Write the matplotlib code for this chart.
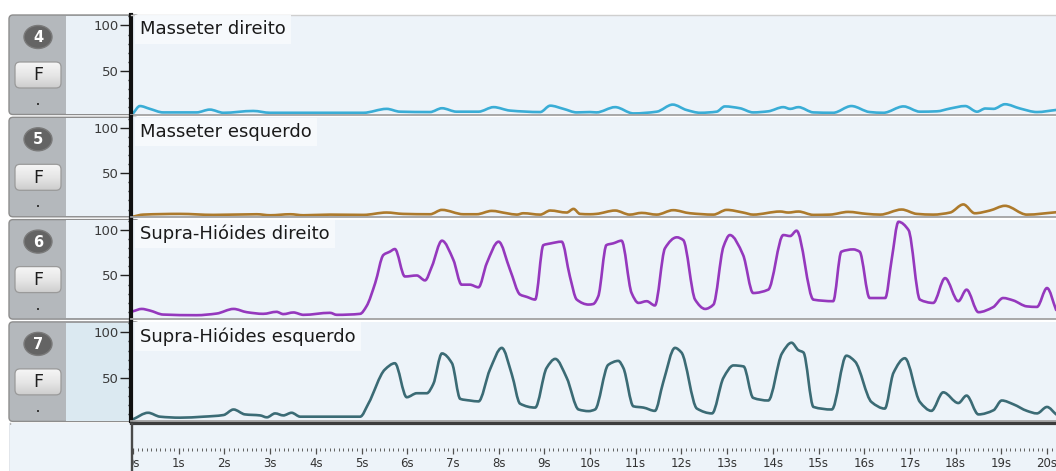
import numpy as np
import matplotlib
matplotlib.use('Agg')
import matplotlib.pyplot as plt
from matplotlib.patches import FancyBboxPatch, Ellipse, Rectangle, PathPatch
from matplotlib.path import Path
from matplotlib.colors import LinearSegmentedColormap
from matplotlib.ticker import MultipleLocator, FixedLocator, FuncFormatter

W, H = 1056, 471

# channel ids, muscle names and trace colours
channels = ['4', '5', '6', '7']
names = ['Masseter direito', 'Masseter esquerdo',
         'Supra-Hióides direito', 'Supra-Hióides esquerdo']
colors = ['#3aadd6', '#ad7a2c', '#9538bd', '#3b6b75']

# EMG envelopes, time in seconds and amplitude in %
md_t = [0.0, 0.15, 0.37, 0.66, 1.39, 1.68, 1.98, 2.63, 3.0, 5.04,
        5.55, 5.84, 6.5, 6.76, 7.08, 7.56, 7.89, 8.25, 8.91, 9.13,
        9.42, 9.71, 10.0, 10.14, 10.55, 10.95, 11.46, 11.81, 12.11, 12.41,
        12.77, 12.95, 13.28, 13.57, 13.9, 14.23, 14.38, 14.56, 14.89, 15.32,
        15.72, 16.12, 16.42, 16.86, 17.22, 17.59, 17.88, 18.21, 18.47, 18.65,
        18.83, 19.08, 19.41, 19.78, 20.2]
md_v = [3.2, 11.3, 8.2, 4.3, 4.3, 7.4, 3.9, 5.9, 3.9, 3.9,
        8.2, 5.1, 4.7, 8.9, 5.1, 5.1, 10.1, 6.3, 4.7, 11.7,
        8.2, 4.3, 4.7, 4.3, 10.1, 3.2, 5.1, 12.9, 7.0, 3.9,
        5.1, 10.9, 8.9, 4.3, 5.5, 10.1, 8.2, 10.1, 4.3, 3.9,
        11.3, 4.7, 3.9, 10.9, 5.1, 5.5, 8.6, 11.3, 5.1, 8.6,
        8.2, 13.3, 8.6, 4.7, 7.0]

me_t = [0.0, 0.22, 1.03, 1.76, 2.71, 3.0, 3.44, 3.73, 4.31, 5.04,
        5.55, 5.91, 6.5, 6.76, 7.23, 7.52, 7.85, 8.18, 8.4, 8.54,
        8.91, 9.13, 9.49, 9.64, 9.78, 10.0, 10.14, 10.55, 10.87, 11.13,
        11.46, 11.82, 12.19, 12.7, 12.99, 13.35, 13.57, 14.16, 14.34, 14.56,
        14.89, 15.25, 15.65, 16.06, 16.35, 16.82, 17.15, 17.51, 17.88, 18.17,
        18.42, 18.75, 19.08, 19.56, 20.2]
me_v = [2.2, 4.4, 5.2, 4.1, 4.8, 3.7, 4.8, 3.7, 4.4, 4.1,
        6.7, 5.2, 4.8, 9.6, 4.8, 4.8, 8.5, 5.9, 4.4, 5.9,
        4.4, 8.9, 6.7, 10.7, 5.2, 4.8, 5.2, 8.9, 4.4, 6.3,
        4.4, 9.3, 5.9, 4.4, 9.6, 6.7, 4.4, 7.8, 6.7, 7.8,
        4.1, 4.4, 7.4, 5.2, 4.4, 10.0, 5.2, 4.4, 6.7, 15.6,
        5.9, 8.9, 14.1, 4.4, 7.0]

sd_t = [0.0, 0.19, 0.37, 0.66, 1.39, 1.83, 2.2, 2.49, 2.85, 3.14,
        3.29, 3.51, 3.73, 4.31, 4.46, 4.97, 5.11, 5.3, 5.48, 5.62,
        5.73, 5.95, 6.21, 6.39, 6.54, 6.76, 7.01, 7.19, 7.37, 7.56,
        7.74, 8.0, 8.25, 8.47, 8.62, 8.8, 8.98, 9.13, 9.38, 9.56,
        9.71, 9.97, 10.07, 10.18, 10.36, 10.51, 10.69, 10.91, 11.06, 11.24,
        11.42, 11.64, 11.9, 12.04, 12.3, 12.52, 12.7, 12.92, 13.06, 13.35,
        13.57, 13.9, 14.23, 14.38, 14.52, 14.89, 15.32, 15.5, 15.76, 15.9,
        16.12, 16.46, 16.6, 16.75, 16.97, 17.22, 17.51, 17.77, 18.06, 18.24,
        18.5, 18.82, 19.04, 19.26, 19.56, 19.78, 20.0, 20.2]
sd_v = [10.6, 13.2, 11.4, 7.0, 6.3, 8.1, 13.2, 9.6, 7.8, 10.0,
        7.5, 9.3, 6.7, 8.9, 6.7, 7.8, 16.2, 41.7, 72.6, 76.2,
        79.1, 48.9, 50.0, 44.6, 59.9, 88.3, 67.2, 39.9, 39.9, 37.0,
        63.4, 87.2, 56.3, 29.0, 26.4, 23.5, 83.4, 85.2, 87.2, 48.9,
        23.5, 18.0, 18.6, 27.0, 83.5, 85.4, 88.3, 30.7, 19.8, 21.7,
        17.0, 79.9, 92.0, 89.0, 23.4, 13.2, 17.9, 81.7, 94.5, 72.6,
        30.7, 34.4, 94.5, 93.4, 99.3, 23.4, 21.7, 76.2, 78.7, 76.2,
        25.2, 25.2, 67.2, 109.1, 100.0, 23.4, 19.8, 47.1, 21.7, 34.4,
        9.6, 15.1, 25.2, 22.6, 16.0, 15.4, 36.2, 12.0]

se_t = [0.0, 0.33, 0.59, 1.03, 1.54, 1.98, 2.2, 2.45, 2.78, 2.93,
        3.11, 3.29, 3.47, 3.66, 4.31, 4.97, 5.15, 5.51, 5.73, 5.99,
        6.21, 6.43, 6.57, 6.76, 6.98, 7.16, 7.37, 7.56, 7.81, 8.07,
        8.29, 8.47, 8.8, 9.05, 9.24, 9.49, 9.75, 9.97, 10.11, 10.4,
        10.62, 10.73, 10.95, 11.17, 11.42, 11.6, 11.86, 12.0, 12.34, 12.67,
        12.92, 13.14, 13.36, 13.57, 13.9, 14.2, 14.41, 14.56, 14.67, 14.89,
        15.29, 15.61, 15.8, 16.16, 16.45, 16.64, 16.89, 17.22, 17.47, 17.73,
        18.06, 18.24, 18.5, 18.83, 19.01, 19.27, 19.56, 19.78, 20.0, 20.2]
se_v = [4.3, 11.5, 7.2, 6.1, 7.2, 9.0, 15.1, 9.7, 8.6, 6.5,
        10.8, 8.6, 11.5, 7.2, 7.2, 7.2, 21.5, 59.0, 66.0, 28.6,
        33.0, 33.0, 43.0, 76.8, 66.0, 26.8, 25.0, 24.0, 59.0, 82.9,
        53.6, 21.5, 17.2, 60.8, 70.8, 50.0, 15.1, 13.3, 15.1, 64.3,
        68.6, 60.8, 18.6, 17.2, 13.6, 44.7, 82.9, 77.9, 16.1, 10.8,
        50.0, 63.6, 62.5, 27.9, 25.0, 76.8, 88.6, 80.4, 77.9, 17.9,
        15.1, 74.3, 67.9, 23.3, 16.1, 55.4, 71.5, 23.3, 13.6, 34.0,
        22.2, 30.4, 9.7, 14.3, 25.0, 20.7, 13.6, 10.8, 17.9, 9.7]

series = [(md_t, md_v), (me_t, me_v), (sd_t, sd_v), (se_t, se_v)]

y_ticks = [50, 100]
x_ticks = list(range(0, 21))

PLOT_BG = '#edf3f9'
LEFT_X = 131          # pixel column of the vertical axis
PX_PER_S = 45.7
XLIM = (-2 / PX_PER_S, (W - LEFT_X - 2) / PX_PER_S)
YLIM = (2, 111.5)
TOPS = [15, 117.3, 219.6, 321.9]
PH = 99.5

plt.rcParams['font.family'] = ['DejaVu Sans']


def frac(x0, y0, x1, y1):
    # pixel box (top-left origin) -> figure fraction rect
    return [x0 / W, 1 - y1 / H, (x1 - x0) / W, (y1 - y0) / H]


def smooth_path(t, v):
    # monotone cubic (Fritsch-Carlson) through the samples, as bezier segments
    x = np.asarray(t, float)
    y = np.asarray(v, float)
    h = np.diff(x)
    d = np.diff(y) / h
    m = np.zeros_like(y)
    m[0], m[-1] = d[0], d[-1]
    for k in range(1, len(x) - 1):
        if d[k - 1] * d[k] <= 0:
            m[k] = 0.0
        else:
            w1 = 2 * h[k] + h[k - 1]
            w2 = h[k] + 2 * h[k - 1]
            m[k] = (w1 + w2) / (w1 / d[k - 1] + w2 / d[k])
    verts = [(x[0], y[0])]
    codes = [Path.MOVETO]
    for k in range(len(x) - 1):
        verts += [(x[k] + h[k] / 3, y[k] + m[k] * h[k] / 3),
                  (x[k + 1] - h[k] / 3, y[k + 1] - m[k + 1] * h[k] / 3),
                  (x[k + 1], y[k + 1])]
        codes += [Path.CURVE4] * 3
    return Path(verts, codes)


fig = plt.figure(figsize=(W / 100, H / 100), dpi=100, facecolor='white')

# background layer: left control strip for each channel
bg = fig.add_axes([0, 0, 1, 1], zorder=-1)
bg.axis('off')

btn_cmap = LinearSegmentedColormap.from_list('btn', ['#f6f6f6', '#e6e6e6', '#cdcdcd'])
grad = np.linspace(0, 1, 50).reshape(-1, 1)
for i, ch in enumerate(channels):
    y0 = TOPS[i]
    strip = FancyBboxPatch((9, y0), LEFT_X - 9 + 8, PH,
                           boxstyle='round,pad=0,rounding_size=4',
                           fc='#b4b8bc', ec='#8d8d8d', lw=1)
    bg.add_patch(strip)
    col = '#dbe9f1' if i == 3 else '#eaf1f7'
    bg.add_patch(Rectangle((66, y0 + 0.8), LEFT_X - 66, PH - 1.6, fc=col, ec='none'))

    # channel number badge
    bg.add_patch(Ellipse((38, y0 + 22), 28, 23, fc='#646464', ec='#7a7a7a', lw=1))
    bg.text(38, y0 + 22.5, ch, ha='center', va='center', color='white',
            fontsize=10.5, fontweight='bold')

    # "F" button with a soft vertical gradient
    btn = FancyBboxPatch((15, y0 + 47), 46, 26,
                         boxstyle='round,pad=0,rounding_size=5',
                         fc='none', ec='#9a9a9a', lw=0.9, zorder=2)
    bg.add_patch(btn)
    im = bg.imshow(grad, extent=(15, 61, y0 + 73, y0 + 47), cmap=btn_cmap,
                   aspect='auto', zorder=1)
    im.set_clip_path(btn)
    bg.text(38, y0 + 60.5, 'F', ha='center', va='center', color='#1e1e1e',
            fontsize=12.5, zorder=3)
    bg.add_patch(Rectangle((37, y0 + 88), 2, 2, fc='#3a3a3a', ec='none'))

# left block under the last strip
bg.add_patch(Rectangle((9, 423), LEFT_X - 9, 60, fc='#edf3f9', ec='none'))
bg.plot([9.5, 9.5], [423, H], color='#b5b5b5', lw=1)
bg.set_xlim(0, W)
bg.set_ylim(H, 0)

# one panel per channel
for i, (t, v) in enumerate(series):
    y0 = TOPS[i]
    ax = fig.add_axes(frac(LEFT_X, y0, W, y0 + PH))
    ax.set_facecolor(PLOT_BG)
    ax.add_patch(PathPatch(smooth_path(t, v), fc='none', ec=colors[i], lw=1.9,
                           joinstyle='round', capstyle='round'))
    ax.set_xlim(*XLIM)
    ax.set_ylim(*YLIM)
    ax.set_xticks([])
    ax.yaxis.set_major_locator(FixedLocator(y_ticks))
    ax.yaxis.set_minor_locator(MultipleLocator(10))
    ax.tick_params(axis='y', which='major', length=8, width=1, color='#222222',
                   labelsize=9.5, labelcolor='#3a3a3a', pad=1)
    ax.tick_params(axis='y', which='minor', length=2.5, width=1, color='#222222')
    ax.spines['left'].set_color('#111111')
    ax.spines['left'].set_linewidth(3)
    ax.spines['right'].set_visible(False)
    ax.spines['bottom'].set_color('#a2a2a2')
    ax.spines['bottom'].set_linewidth(1.3)
    if i == 0:
        ax.spines['top'].set_color('#cfcfcf')
        ax.spines['top'].set_linewidth(1)
    else:
        ax.spines['top'].set_visible(False)
    ax.text((140 - LEFT_X) / (W - LEFT_X), 1 - 14.5 / PH, names[i],
            transform=ax.transAxes, ha='left', va='center', fontsize=13,
            color='#1a1a1a',
            bbox=dict(boxstyle='square,pad=0.28', fc='#f7fafd', ec='none', alpha=0.95))

# time ruler
axt = fig.add_axes(frac(LEFT_X, 423, W, H))
axt.set_facecolor(PLOT_BG)
axt.set_xlim(*XLIM)
axt.set_yticks([])
axt.spines['right'].set_visible(False)
axt.spines['left'].set_visible(False)
axt.spines['top'].set_color('#3c3c3c')
axt.spines['top'].set_linewidth(2.3)
axt.spines['bottom'].set_position(('axes', 23 / 48))
axt.spines['bottom'].set_color('none')
axt.xaxis.set_major_locator(FixedLocator(x_ticks))
axt.xaxis.set_minor_locator(MultipleLocator(0.1))
axt.xaxis.set_major_formatter(FuncFormatter(lambda x, p: f'{x:.0f}s'))
axt.tick_params(axis='x', which='major', length=4.5, width=0.9, color='#505050',
                labelsize=8.5, labelcolor='#333333', pad=2)
axt.tick_params(axis='x', which='minor', length=2, width=0.7, color='#606060')

# overlay: hides the part of the first ruler label left of the axis line
ui = fig.add_axes([0, 0, 1, 1], zorder=5)
ui.set_xlim(0, W)
ui.set_ylim(H, 0)
ui.axis('off')
ui.add_patch(Rectangle((10, 424.5), LEFT_X - 10, 60, fc='#edf3f9', ec='none'))
ui.plot([LEFT_X + 0.5, LEFT_X + 0.5], [423, H], color='#4a4a4a', lw=1.7,
        solid_capstyle='butt')

fig.savefig('out.png', dpi=100, facecolor='white')
